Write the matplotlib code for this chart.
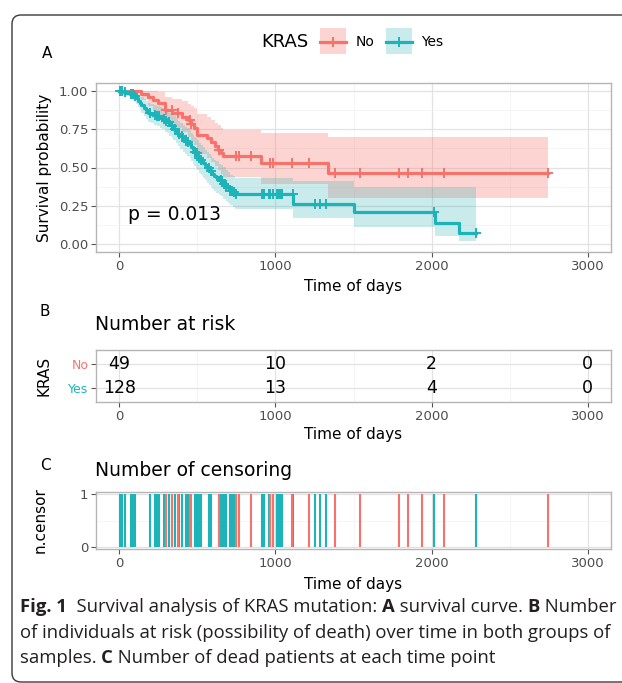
import numpy as np
import matplotlib.pyplot as plt
from matplotlib.patches import Rectangle, FancyBboxPatch
from matplotlib.lines import Line2D
from matplotlib.transforms import IdentityTransform
from matplotlib.ticker import MultipleLocator

W, H = 622, 683
RED = '#F5736B'
TEAL = '#1DB4B9'
RED_FILL = '#F8766D'
TEAL_FILL = '#2BB0B5'

# KRAS = No : Kaplan-Meier steps, 95% CI, censored times
no_t = [0, 140, 185, 215, 245, 290, 340, 400, 440, 460, 480, 495, 560, 585, 610, 630, 650, 662, 905, 1335]
no_s = [1.0, 0.980, 0.959, 0.938, 0.917, 0.875, 0.853, 0.830, 0.807, 0.784, 0.760, 0.713, 0.689, 0.665,
        0.641, 0.617, 0.593, 0.572, 0.528, 0.462]
no_hi = [1.0, 1.0, 1.0, 1.0, 0.99, 0.96, 0.945, 0.93, 0.915, 0.90, 0.885, 0.85, 0.83, 0.81,
         0.79, 0.775, 0.755, 0.745, 0.722, 0.697]
no_lo = [1.0, 0.94, 0.90, 0.87, 0.84, 0.79, 0.76, 0.73, 0.70, 0.675, 0.645, 0.59, 0.565, 0.535,
         0.51, 0.485, 0.46, 0.44, 0.39, 0.30]
no_end = 2745
no_cens = [300, 336, 374, 450, 460, 636, 745, 768, 840, 965, 985, 1105, 1217, 1381, 1541,
           1790, 1850, 1940, 2080, 2745]

# KRAS = Yes
yes_t = [0, 20, 45, 70, 90, 105, 120, 130, 140, 155, 170, 185, 200, 220, 240, 260, 275, 290, 305, 320,
         335, 345, 360, 375, 390, 405, 420, 435, 450, 460, 470, 480, 490, 500, 512, 524, 536, 548, 560, 572,
         584, 596, 608, 620, 635, 650, 665, 680, 695, 710, 725, 740, 1115, 1500, 2020, 2178]
yes_s = [1.0, 0.992, 0.984, 0.976, 0.968, 0.952, 0.936, 0.921, 0.905, 0.889, 0.873, 0.857, 0.849, 0.841,
         0.833, 0.825, 0.817, 0.801, 0.793, 0.777, 0.769, 0.753, 0.737, 0.721, 0.705, 0.690, 0.674, 0.666,
         0.650, 0.634, 0.618, 0.602, 0.594, 0.578, 0.562, 0.546, 0.530, 0.514, 0.498, 0.482, 0.474, 0.458,
         0.443, 0.435, 0.419, 0.411, 0.395, 0.380, 0.364, 0.348, 0.340, 0.326, 0.261, 0.208, 0.139, 0.075]
yes_hi = [1.0, 1.0, 1.0, 1.0, 0.998, 0.99, 0.978, 0.968, 0.957, 0.945, 0.932, 0.918, 0.912, 0.905,
          0.899, 0.893, 0.886, 0.873, 0.867, 0.853, 0.846, 0.833, 0.819, 0.805, 0.791, 0.777, 0.763, 0.756,
          0.741, 0.727, 0.712, 0.698, 0.691, 0.676, 0.661, 0.646, 0.631, 0.616, 0.601, 0.586, 0.578, 0.563,
          0.548, 0.540, 0.525, 0.517, 0.501, 0.486, 0.470, 0.454, 0.446, 0.432, 0.415, 0.375, 0.375, 0.375]
yes_lo = [1.0, 0.977, 0.963, 0.950, 0.938, 0.915, 0.895, 0.875, 0.855, 0.835, 0.816, 0.797, 0.788, 0.778,
          0.769, 0.759, 0.750, 0.731, 0.722, 0.703, 0.694, 0.676, 0.657, 0.640, 0.622, 0.604, 0.587, 0.578,
          0.561, 0.543, 0.526, 0.509, 0.500, 0.483, 0.466, 0.450, 0.433, 0.416, 0.400, 0.384, 0.376, 0.360,
          0.344, 0.336, 0.320, 0.313, 0.297, 0.283, 0.268, 0.253, 0.246, 0.232, 0.17, 0.112, 0.054, 0.02]
yes_end = 2283
yes_cens = [2, 17, 34, 77, 87, 98, 194, 226, 241, 253, 285, 300, 315, 339, 354, 385, 400, 424, 439, 486,
            498, 513, 524, 571, 584, 648, 658, 673, 684, 711, 722, 733, 745, 914, 924, 956, 967, 982, 1010,
            1024, 1035, 1042, 1114, 1254, 1286, 1323, 2015, 2283]

risk_times = [0, 1000, 2000, 3000]
no_risk = [49, 10, 2, 0]
yes_risk = [128, 13, 4, 0]
p_label = 'p = 0.013'

fig = plt.figure(figsize=(W / 100, H / 100), dpi=100)


def box(l, t, r, b):
    return [l / W, 1 - b / H, (r - l) / W, (b - t) / H]


def base_style(ax):
    ax.set_xlim(-150, 3150)
    ax.set_xticks([0, 1000, 2000, 3000])
    ax.xaxis.set_minor_locator(MultipleLocator(500))
    ax.set_axisbelow(True)
    ax.grid(which='major', color='#E2E2E2', lw=0.9)
    ax.grid(which='minor', color='#F1F1F1', lw=0.5)
    for sp in ax.spines.values():
        sp.set_color('#B5B5B5')
        sp.set_linewidth(1.0)
    ax.tick_params(which='major', length=3.5, width=0.8, color='#555555',
                   labelsize=9.5, labelcolor='#4D4D4D', pad=2)
    ax.tick_params(which='minor', length=0)


def place_labels(ax, xl, yl, xy, yx, top, bottom):
    ax.set_xlabel(xl, fontsize=11)
    ax.set_ylabel(yl, fontsize=11)
    hgt = bottom - top
    ax.xaxis.set_label_coords(0.5, (bottom - xy) / hgt)
    ax.xaxis.label.set_va('center')
    ax.yaxis.set_label_coords((yx - 96) / 515, 0.5)
    ax.yaxis.label.set_va('center')


# A: survival curves
axA = fig.add_axes(box(96, 83, 611, 252))
base_style(axA)
axA.set_ylim(-0.05, 1.05)
axA.set_yticks([0, 0.25, 0.5, 0.75, 1.0])
axA.set_yticklabels(['0.00', '0.25', '0.50', '0.75', '1.00'])
axA.yaxis.set_minor_locator(MultipleLocator(0.125))

groups = [(no_t, no_s, no_lo, no_hi, no_end, no_cens, RED, RED_FILL, 0.3),
          (yes_t, yes_s, yes_lo, yes_hi, yes_end, yes_cens, TEAL, TEAL_FILL, 0.25)]
for t, s, lo, hi, end, cens, col, fcol, alpha in groups:
    te = np.append(t, end)
    axA.fill_between(te, np.append(lo, lo[-1]), np.append(hi, hi[-1]),
                     step='post', color=fcol, alpha=alpha, lw=0)
for t, s, lo, hi, end, cens, col, fcol, alpha in groups:
    te = np.append(t, end)
    axA.step(te, np.append(s, s[-1]), where='post', color=col, lw=2.3)
    idx = np.searchsorted(t, cens, side='right') - 1
    axA.plot(cens, np.asarray(s)[idx], '+', color=col, ms=7, mew=1.4, ls='none')

axA.text(58, 0.197, p_label, fontsize=13.5, va='center', ha='left')
place_labels(axA, 'Time of days', 'Survival probability', 286, 44, 83, 252)

# B: number at risk
axB = fig.add_axes(box(96, 350, 611, 402))
base_style(axB)
axB.set_ylim(0.4, 2.6)
axB.set_yticks([1, 2])
axB.set_yticklabels(['Yes', 'No'], fontsize=9)
axB.get_yticklabels()[0].set_color(TEAL)
axB.get_yticklabels()[1].set_color(RED)
for x, a, b in zip(risk_times, no_risk, yes_risk):
    axB.text(x, 2, str(a), ha='center', va='center', fontsize=12.5)
    axB.text(x, 1, str(b), ha='center', va='center', fontsize=12.5)
place_labels(axB, 'Time of days', 'KRAS', 435, 44, 350, 402)

# C: censoring counts
axC = fig.add_axes(box(96, 492, 611, 549))
base_style(axC)
axC.set_ylim(-0.04, 1.04)
axC.set_yticks([0, 1])
axC.yaxis.set_minor_locator(MultipleLocator(0.5))
axC.vlines(yes_cens, 0, 1, color=TEAL, lw=1.5)
axC.vlines(no_cens, 0, 1, color=RED, lw=1.5)
place_labels(axC, 'Time of days', 'n.censor', 584, 40, 492, 549)

# panel titles and letters
fig.text(95 / W, 1 - 325 / H, 'Number at risk', fontsize=13.5, va='center')
fig.text(95 / W, 1 - 471 / H, 'Number of censoring', fontsize=13.5, va='center')
for letter, x, y in [('A', 47, 53), ('B', 45, 312), ('C', 45, 466)]:
    fig.text(x / W, 1 - y / H, letter, fontsize=11, ha='center', va='center')

# legend
ident = IdentityTransform()
fig.text(285 / W, 1 - 42 / H, 'KRAS', fontsize=13, ha='center', va='center')
for x0, col, fcol, alpha, lab, lx in [(320, RED, RED_FILL, 0.3, 'No', 356),
                                      (386, TEAL, TEAL_FILL, 0.25, 'Yes', 421)]:
    fig.add_artist(Rectangle((x0, H - 54), 26, 26, transform=ident,
                             facecolor=fcol, alpha=alpha, lw=0))
    fig.add_artist(Line2D([x0, x0 + 26], [H - 42, H - 42], transform=ident, color=col, lw=2.3))
    fig.add_artist(Line2D([x0 + 13], [H - 42], transform=ident, color=col,
                          marker='+', ms=7, mew=1.4, ls='none'))
    fig.text(lx / W, 1 - 42 / H, lab, fontsize=10, ha='left', va='center')

# outer frame
fig.add_artist(FancyBboxPatch((12, 1), 650, 667, boxstyle='round,pad=0,rounding_size=9',
                              transform=ident, fill=False, ec='#3A3A3A', lw=1.0))

# caption with bold runs
renderer = fig.canvas.get_renderer()
FS = 13.3
CAP_FONT = 'Open Sans'


def seg_width(txt, bold):
    kw = dict(fontsize=FS, family=CAP_FONT, fontweight='bold' if bold else 'normal')
    a = fig.text(0, 0, '|' + txt + '|', **kw)
    b = fig.text(0, 0, '||', **kw)
    w = a.get_window_extent(renderer).width - b.get_window_extent(renderer).width
    a.remove()
    b.remove()
    return w


def rich_line(segments, x0, y):
    x = x0
    for txt, bold in segments:
        fig.text(x / W, 1 - y / H, txt, fontsize=FS, family=CAP_FONT, color='#231F20',
                 fontweight='bold' if bold else 'normal', va='center', ha='left')
        x += seg_width(txt, bold)


rich_line([('Fig. 1', True), ('  Survival analysis of KRAS mutation: ', False), ('A', True),
           (' survival curve. ', False), ('B', True), (' Number', False)], 20, 607)
rich_line([('of individuals at risk (possibility of death) over time in both groups of', False)], 20, 633)
rich_line([('samples. ', False), ('C', True), (' Number of dead patients at each time point', False)], 20, 658)

fig.savefig('out.png', dpi=100)
